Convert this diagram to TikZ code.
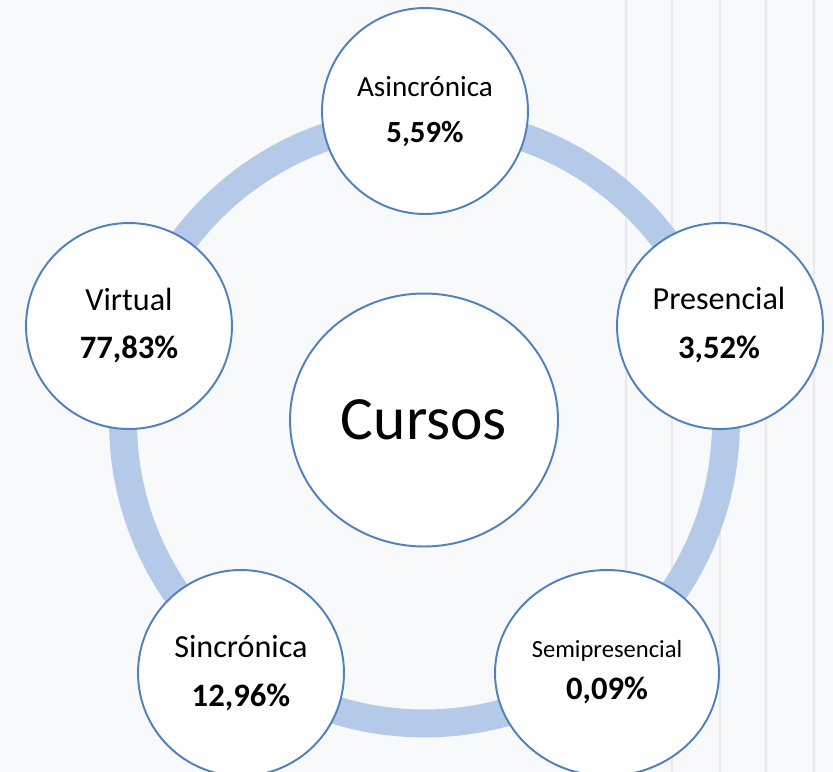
\documentclass[tikz,border=0pt]{standalone}
\usepackage{fontspec}
\setmainfont{Carlito}
\usetikzlibrary{shapes.geometric}
\definecolor{ringblue}{RGB}{181,201,232}
\definecolor{edgeblue}{RGB}{79,129,189}
\definecolor{paper}{RGB}{248,249,251}
\definecolor{stripe}{RGB}{231,233,237}

\begin{document}
\begin{tikzpicture}[x=0.02cm, y=0.02cm]
\tikzstyle{every node}+=[inner sep=0pt]
\tikzstyle{bubble}=[circle, draw=edgeblue, line width=1.1pt, fill=white, minimum size=4.12cm]
\tikzstyle{oval}=[ellipse, draw=edgeblue, line width=1.1pt, fill=white]
\tikzstyle{ring}=[draw=ringblue, line width=15.9pt]
\tikzstyle{lab}=[anchor=base, font=\fontsize{18.3}{22}\selectfont]
\tikzstyle{pct}=[anchor=base, font=\fontsize{18.6}{22}\selectfont\bfseries]
\clip (0,0) rectangle (833,-772);
\fill [paper] (0,0) rectangle (833,-772);
% background stripes
\draw [stripe, line width=1.1pt] (626,0) -- (626,-772);
\draw [stripe, line width=1.1pt] (672,0) -- (672,-772);
\draw [stripe, line width=1.1pt] (720,0) -- (720,-772);
\draw [stripe, line width=1.1pt] (766,0) -- (766,-772);
\draw [stripe, line width=1.1pt] (814,0) -- (814,-772);
% ring
\coordinate (hub) at (424.5,-422);
\draw [ring] (hub) circle (6.03cm);
% centre
\node [oval, minimum width=5.36cm, minimum height=5.06cm, font=\fontsize{35}{42}\selectfont] (cursos) at (424,-420) {Cursos};
% outer circles
\node [bubble] (asinc) at (425,-111) {};
\node [bubble] (pres) at (720,-326) {};
\node [oval, minimum width=4.48cm, minimum height=4.12cm] (semi) at (607,-673) {};
\node [bubble] (sinc) at (241,-673) {};
\node [bubble] (virt) at (129,-326) {};
% labels
\node [lab, font=\fontsize{16.6}{20}\selectfont] (asinc-t) at (425,-96) {Asincrónica};
\node [pct, font=\fontsize{17.5}{21}\selectfont\bfseries] (asinc-p) at (425,-142) {5,59\%};
\node [lab] (pres-t) at (719,-309) {Presencial};
\node [pct] (pres-p) at (719,-358) {3,52\%};
\node [lab, font=\fontsize{14}{17}\selectfont] (semi-t) at (607,-657) {Semipresencial};
\node [pct] (semi-p) at (607,-699) {0,09\%};
\node [lab] (sinc-t) at (241,-657) {Sincrónica};
\node [pct] (sinc-p) at (241,-706) {12,96\%};
\node [lab] (virt-t) at (129,-310) {Virtual};
\node [pct] (virt-p) at (129,-358) {77,83\%};
\end{tikzpicture}
\end{document}
